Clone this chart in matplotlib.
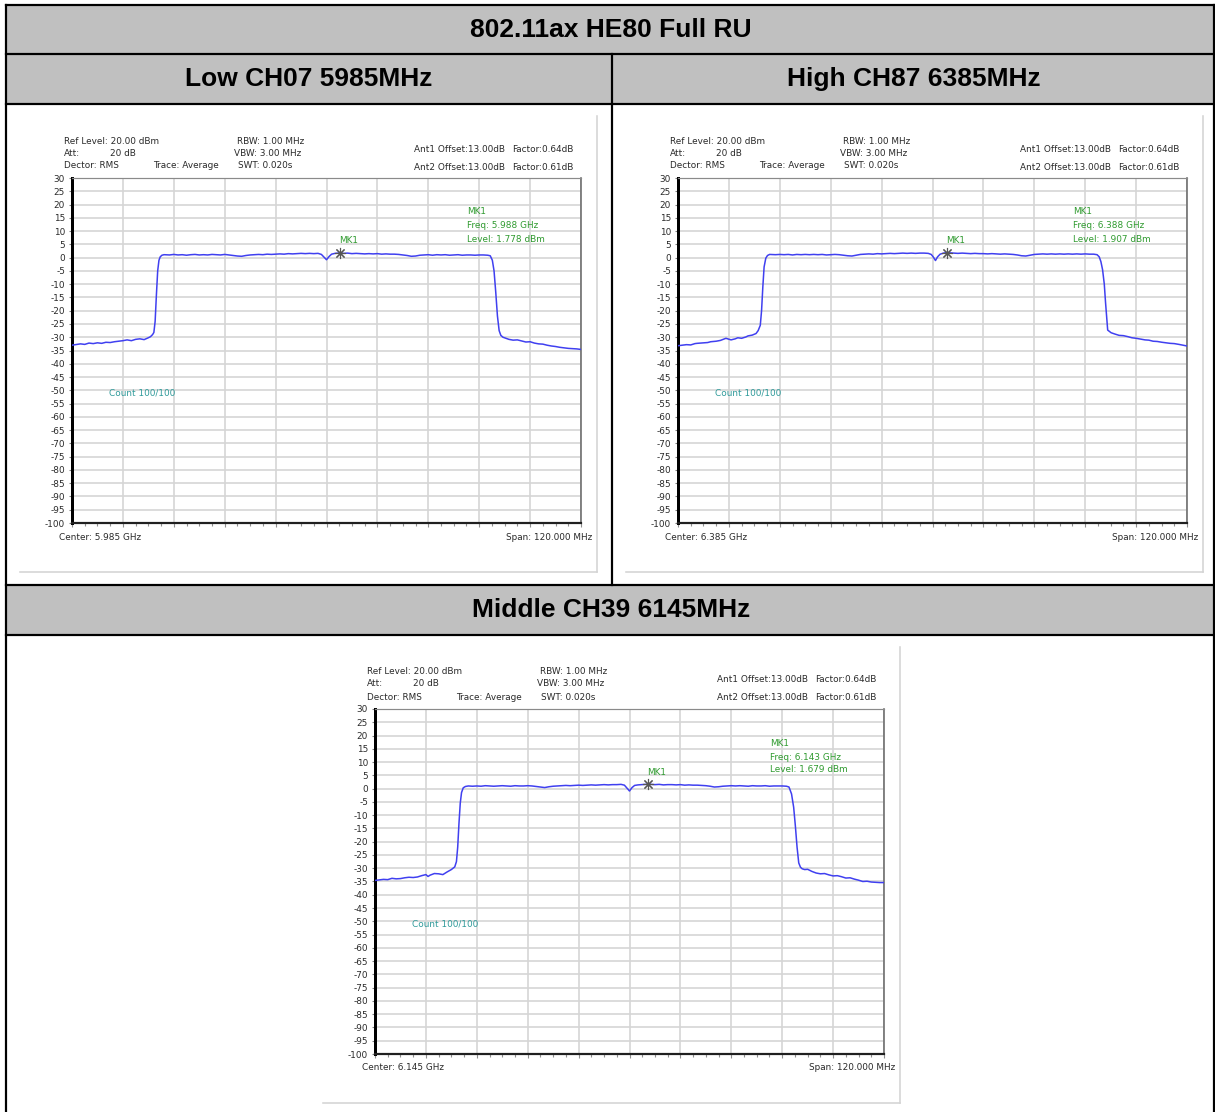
import matplotlib
matplotlib.use('Agg')
import matplotlib.pyplot as plt
from matplotlib.ticker import MultipleLocator

# ---------------- data ----------------
title = "802.11ax HE80 Full RU"
cell_titles = ["Low CH07 5985MHz", "High CH87 6385MHz", "Middle CH39 6145MHz"]
center_labels = ["Center: 5.985 GHz", "Center: 6.385 GHz", "Center: 6.145 GHz"]
marker_freq_labels = ["Freq: 5.988 GHz", "Freq: 6.388 GHz", "Freq: 6.143 GHz"]
marker_level_labels = ["Level: 1.778 dBm", "Level: 1.907 dBm", "Level: 1.679 dBm"]
marker_offsets_mhz = [3.3, 3.4, 4.4]
marker_levels_dbm = [1.778, 1.907, 1.679]

y_tick_values = [30, 25, 20, 15, 10, 5, 0, -5, -10, -15, -20, -25, -30, -35, -40, -45,
                 -50, -55, -60, -65, -70, -75, -80, -85, -90, -95, -100]
y_tick_labels = [str(v) for v in y_tick_values]

# (frequency offset from centre in MHz, level in dBm)
low_trace = [
    (-60, -33.0), (-58, -32.5), (-57, -32.7), (-56, -32.2), (-55, -32.4), (-54, -32.1),
    (-53, -32.3), (-52, -31.9), (-51, -32.0), (-50, -31.7), (-49, -31.5), (-48, -31.3),
    (-47, -31.0), (-46, -31.3), (-45, -30.8), (-44, -30.6), (-43, -30.9), (-42, -30.2),
    (-41.5, -29.8), (-41.0, -29.0), (-40.7, -28.2), (-40.4, -24.0),
    (-40.1, -14.0), (-39.8, -5.0), (-39.5, -1.0), (-39.2, 0.3), (-38.8, 0.9), (-38.3, 1.1),
    (-37, 1.0), (-36, 1.2), (-35, 1.0), (-34, 1.1), (-33, 0.9), (-32, 1.1), (-31, 1.2),
    (-30, 1.0), (-29, 1.1), (-28, 1.0), (-27, 1.2), (-26, 1.1), (-25, 1.0), (-24, 1.2),
    (-23, 1.0), (-22, 0.8), (-21, 0.6), (-20, 0.5), (-19, 0.8), (-18, 1.0), (-17, 1.1),
    (-16, 1.2), (-15, 1.1), (-14, 1.3), (-13, 1.2), (-12, 1.3), (-11, 1.4), (-10, 1.3),
    (-9, 1.5), (-8, 1.4), (-7, 1.5), (-6, 1.6), (-5, 1.5), (-4, 1.6), (-3, 1.5), (-2, 1.6),
    (-1.2, 1.2), (-0.6, 0.2), (0, -0.8), (0.6, 0.4), (1.2, 1.3), (2, 1.6), (3.3, 1.78),
    (4, 1.6), (5, 1.7), (6, 1.5), (7, 1.6), (8, 1.5), (9, 1.4), (10, 1.5),
    (11, 1.4), (12, 1.5), (13, 1.3), (14, 1.4), (15, 1.3), (16, 1.3), (17, 1.2), (18, 1.0),
    (19, 0.8), (20, 0.5), (21, 0.6), (22, 0.9), (23, 1.0), (24, 1.1), (25, 0.9), (26, 1.1),
    (27, 1.0), (28, 1.1), (29, 0.9), (30, 1.0), (31, 1.1), (32, 0.9), (33, 1.0), (34, 1.0),
    (35, 0.9), (36, 1.0), (37, 1.0), (38, 0.9), (38.6, 0.7), (39.1, -1.0), (39.5, -5.0),
    (39.9, -13.0), (40.3, -22.0), (40.7, -27.5), (41.1, -29.3), (41.6, -30.0),
    (42.3, -30.4), (43, -30.8), (44, -31.1), (45, -31.0), (46, -31.4), (47, -31.8),
    (48, -31.7), (49, -32.2), (50, -32.5), (51, -32.6), (52, -33.0), (53, -33.3),
    (54, -33.5), (55, -33.8), (56, -34.0), (57, -34.2), (58, -34.3), (59, -34.4), (60, -34.6),
]

high_trace = [
    (-60, -33.2), (-58, -32.8), (-57, -32.9), (-56, -32.4), (-55.5, -32.3), (-54, -32.1),
    (-53, -32.0), (-52.3, -31.7), (-51, -31.5), (-50, -31.2), (-49.5, -30.9),
    (-48.7, -30.4), (-47.5, -31.0), (-46.5, -30.6), (-45.9, -30.2), (-45, -30.4),
    (-44, -29.9), (-43.5, -29.5), (-42.5, -29.2), (-41.6, -28.6), (-41.1, -27.5),
    (-40.6, -25.5), (-40.3, -20.0), (-40.0, -11.0), (-39.7, -3.5), (-39.3, -0.2),
    (-38.9, 0.8), (-38.4, 1.2), (-37, 1.1), (-36, 1.2), (-35, 1.1), (-34, 1.2), (-33, 1.0),
    (-32, 1.2), (-31, 1.1), (-30, 1.2), (-29, 1.1), (-28, 1.2), (-27, 1.1), (-26, 1.2),
    (-25, 1.0), (-24, 1.1), (-23, 1.2), (-22, 1.1), (-21, 0.9), (-20, 0.7), (-19, 0.6),
    (-18, 0.9), (-17, 1.2), (-16, 1.3), (-15, 1.4), (-14, 1.3), (-13, 1.5), (-12, 1.4),
    (-11, 1.5), (-10, 1.6), (-9, 1.5), (-8, 1.6), (-7, 1.7), (-6, 1.6), (-5, 1.7),
    (-4, 1.6), (-3, 1.7), (-2, 1.7), (-1, 1.6), (-0.3, 1.2), (0.2, 0.2), (0.7, -1.1),
    (1.2, 0.3), (1.8, 1.3), (2.6, 1.7), (3.4, 1.907), (4, 1.8), (5, 1.7), (6, 1.6),
    (7, 1.7), (8, 1.6), (9, 1.5), (10, 1.6), (11, 1.5), (12, 1.5), (13, 1.4), (14, 1.5),
    (15, 1.4), (16, 1.3), (17, 1.4), (18, 1.3), (19, 1.2), (20, 1.0), (21, 0.7), (22, 0.6),
    (23, 0.9), (24, 1.2), (25, 1.3), (26, 1.4), (27, 1.3), (28, 1.4), (29, 1.3), (30, 1.4),
    (31, 1.3), (32, 1.4), (33, 1.3), (34, 1.4), (35, 1.3), (36, 1.4), (37, 1.3), (38, 1.3),
    (38.8, 1.1), (39.3, 0.3), (39.7, -1.5), (40.1, -4.6), (40.5, -10.0), (40.8, -17.0),
    (41.1, -23.0), (41.3, -27.3), (42.1, -28.3), (43, -28.8), (44, -29.3), (45, -29.4),
    (46.1, -29.8), (47, -30.2), (48, -30.4), (49, -30.7), (50.1, -31.0), (51, -31.1),
    (52, -31.5), (53, -31.6), (54.1, -31.9), (55, -32.1), (56, -32.3), (57, -32.4),
    (58.1, -32.7), (59, -33.0), (60, -33.3),
]

mid_trace = [
    (-60, -34.6), (-58, -34.2), (-57, -34.3), (-56, -33.8), (-55, -34.0), (-54, -33.9),
    (-53, -33.6), (-52, -33.4), (-51, -33.5), (-50, -33.3),
    (-49, -32.8), (-48, -32.4), (-47.5, -33.1), (-47, -32.6), (-46, -32.0), (-45, -32.1),
    (-44, -32.4), (-43, -31.4), (-42, -30.5), (-41.2, -29.5), (-40.8, -27.5),
    (-40.5, -22.0), (-40.2, -13.0), (-39.9, -5.5), (-39.6, -1.5), (-39.2, 0.3),
    (-38.7, 0.8), (-38, 1.0), (-37, 0.9), (-36, 1.0), (-35, 0.9), (-34, 1.1), (-33, 1.0),
    (-32, 0.9), (-31, 1.0), (-30, 1.1), (-29, 1.0), (-28, 0.9), (-27, 1.1), (-26, 1.0),
    (-25, 1.0), (-24, 1.1), (-23, 1.0), (-22, 0.8), (-21, 0.6), (-20, 0.4), (-19, 0.7),
    (-18, 0.9), (-17, 1.0), (-16, 1.1), (-15, 1.2), (-14, 1.1), (-13, 1.2), (-12, 1.3),
    (-11, 1.2), (-10, 1.3), (-9, 1.4), (-8, 1.3), (-7, 1.4), (-6, 1.5), (-5, 1.4),
    (-4, 1.5), (-3, 1.5), (-2, 1.6), (-1.2, 1.3), (-0.6, 0.2), (0, -0.9), (0.6, 0.4),
    (1.2, 1.2), (2, 1.4), (3, 1.5), (4, 1.6), (4.4, 1.679), (5, 1.6), (6, 1.5), (7, 1.6),
    (8, 1.4), (9, 1.5), (10, 1.5), (11, 1.4), (12, 1.5), (13, 1.3), (14, 1.4), (15, 1.3),
    (16, 1.3), (17, 1.2), (18, 1.1), (19, 0.9), (20, 0.6), (21, 0.7), (22, 0.9), (23, 1.0),
    (24, 1.1), (25, 1.0), (26, 1.1), (27, 1.0), (28, 0.9), (29, 1.1), (30, 1.0), (31, 1.0),
    (32, 1.1), (33, 0.9), (34, 1.0), (35, 1.0), (36, 1.0), (37, 0.9), (37.6, 0.6),
    (38.2, -2.0), (38.7, -7.0), (39.1, -14.0), (39.5, -22.0), (39.9, -28.0),
    (40.3, -29.6), (40.7, -30.2), (41.3, -30.5), (42, -30.4), (43, -31.2), (44, -31.8),
    (45, -32.1), (46, -32.0), (47, -32.5), (48, -32.9), (49, -32.8), (50, -33.2),
    (51, -33.7), (52, -33.6), (53, -34.1), (54, -34.5), (55, -35.0), (56, -34.9),
    (57, -35.2), (58, -35.3), (59, -35.4), (60, -35.4),
]

traces = [low_trace, high_trace, mid_trace]

# ---------------- layout helpers ----------------
W, H = 1215, 1112
fig = plt.figure(figsize=(W / 100, H / 100), dpi=100)
bg = fig.add_axes([0, 0, 1, 1])
bg.set_xlim(0, W)
bg.set_ylim(H, 0)
bg.axis('off')

PT = 72 / 100.0  # points per pixel
GRAY_FILL = '#c0c0c0'
TXT = '#2a2a2a'
GREEN = '#2f9a2f'
TEAL = '#2f9a9a'
TRACE = '#4040f0'
FS = 6.4

# table backgrounds
for (y0, y1) in [(5, 54), (54, 104), (585, 635)]:
    bg.add_patch(plt.Rectangle((6, y0), W - 6, y1 - y0, facecolor=GRAY_FILL,
                               edgecolor='none', zorder=0))
lw_tab = 2.2 * PT
for y in [5, 54, 104, 585, 635]:
    bg.plot([6, 1214], [y, y], color='black', lw=lw_tab, solid_capstyle='projecting')
bg.plot([6, 6], [5, 1112], color='black', lw=lw_tab)
bg.plot([1214, 1214], [5, 1112], color='black', lw=lw_tab)
bg.plot([612, 612], [54, 585], color='black', lw=lw_tab)

hfont = dict(family='Liberation Sans', weight='bold', fontsize=19, color='black',
             ha='center', va='center')
bg.text(611, 30, title, **hfont)
bg.text(309, 79, cell_titles[0], **hfont)
bg.text(914, 79, cell_titles[1], **hfont)
bg.text(611, 610, cell_titles[2], **hfont)

small = dict(family='DejaVu Sans', fontsize=FS, color=TXT, va='center')


def draw_chart(x0, y0, x1, y1, idx):
    # image border (screenshot frame)
    bg.plot([x1 + 16, x1 + 16], [y0 - 62, y1 + 49], color='#d4d4d4', lw=1.6 * PT)
    bg.plot([x0 - 52, x1 + 16], [y1 + 49, y1 + 49], color='#d4d4d4', lw=1.6 * PT)

    # header texts
    bg.text(x0 - 8, y0 - 37, "Ref Level: 20.00 dBm", ha='left', **small)
    bg.text(x0 - 8, y0 - 25, "Att:", ha='left', **small)
    bg.text(x0 + 38, y0 - 25, "20 dB", ha='left', **small)
    bg.text(x0 - 8, y0 - 12, "Dector: RMS", ha='left', **small)
    bg.text(x0 + 81, y0 - 12, "Trace: Average", ha='left', **small)
    bg.text(x0 + 165, y0 - 37, "RBW: 1.00 MHz", ha='left', **small)
    bg.text(x0 + 162, y0 - 25, "VBW: 3.00 MHz", ha='left', **small)
    bg.text(x0 + 166, y0 - 12, "SWT: 0.020s", ha='left', **small)
    bg.text(x0 + 342, y0 - 29, "Ant1 Offset:13.00dB", ha='left', **small)
    bg.text(x0 + 440, y0 - 29, "Factor:0.64dB", ha='left', **small)
    bg.text(x0 + 342, y0 - 11, "Ant2 Offset:13.00dB", ha='left', **small)
    bg.text(x0 + 440, y0 - 11, "Factor:0.61dB", ha='left', **small)
    bg.text(x0 - 13, y1 + 14, center_labels[idx], ha='left', **small)
    bg.text(x1 + 11, y1 + 14, "Span: 120.000 MHz", ha='right', **small)

    ax = fig.add_axes([x0 / W, 1 - y1 / H, (x1 - x0) / W, (y1 - y0) / H])
    ax.set_xlim(-60, 60)
    ax.set_ylim(-100, 30)
    ax.set_facecolor('white')
    ax.xaxis.set_major_locator(MultipleLocator(12))
    ax.xaxis.set_minor_locator(MultipleLocator(3))
    ax.set_yticks(y_tick_values)
    ax.set_yticklabels(y_tick_labels, family='DejaVu Sans', fontsize=FS, color=TXT)
    ax.set_xticklabels([])
    ax.grid(True, which='major', color='#d6d6d6', lw=1.7 * PT)
    ax.set_axisbelow(True)
    ax.tick_params(axis='y', which='major', direction='out', length=3 * PT, width=0.8,
                   color='#808080', pad=4 * PT)
    ax.tick_params(axis='x', which='major', direction='out', length=4 * PT, width=0.8,
                   color='#909090')
    ax.tick_params(axis='x', which='minor', direction='out', length=3 * PT, width=0.8,
                   color='#909090')
    ax.spines['left'].set_linewidth(3 * PT)
    ax.spines['left'].set_color('black')
    ax.spines['bottom'].set_linewidth(2.2 * PT)
    ax.spines['bottom'].set_color('#202020')
    ax.spines['top'].set_linewidth(1.2 * PT)
    ax.spines['top'].set_color('#8a8a8a')
    ax.spines['right'].set_linewidth(1.6 * PT)
    ax.spines['right'].set_color('#6a6a6a')

    pts = traces[idx]
    freqs = [p[0] for p in pts]
    levels = [p[1] for p in pts]
    ax.plot(freqs, levels, color=TRACE, lw=1.1, zorder=3)

    mx, my = marker_offsets_mhz[idx], marker_levels_dbm[idx]
    ax.plot([mx], [my], marker=(8, 2, 0), color='#555555', ms=8, mew=0.8, zorder=4)
    ax.annotate("MK1", (mx, my), xytext=(-1 * PT, 12 * PT), textcoords='offset points',
                ha='left', va='center', family='DejaVu Sans', fontsize=FS, color=GREEN)

    # texts drawn inside the plot area (must sit above the axes background)
    tr = bg.transData
    ax.text(x0 + 395, y0 + 34, "MK1", ha='left', va='center', family='DejaVu Sans',
            fontsize=FS, color=GREEN, transform=tr, zorder=5)
    ax.text(x0 + 395, y0 + 48, marker_freq_labels[idx], ha='left', va='center',
            family='DejaVu Sans', fontsize=FS, color=GREEN, transform=tr, zorder=5)
    ax.text(x0 + 395, y0 + 61, marker_level_labels[idx], ha='left', va='center',
            family='DejaVu Sans', fontsize=FS, color=GREEN, transform=tr, zorder=5)
    ax.text(x0 + 37, y0 + 215, "Count 100/100", ha='left', va='center',
            family='DejaVu Sans', fontsize=FS, color=TEAL, transform=tr, zorder=5)


draw_chart(72, 178, 581, 523, 0)
draw_chart(678, 178, 1187, 523, 1)
draw_chart(375, 709, 884, 1054, 2)

fig.savefig('out.png', dpi=100, facecolor='white')
